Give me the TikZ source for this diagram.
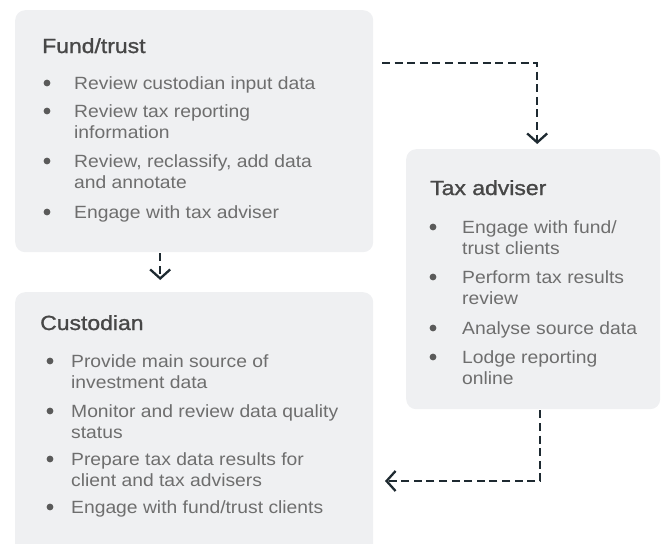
\documentclass[tikz,border=0pt]{standalone}
\usepackage{fontspec}
\setmainfont{Liberation Sans}[FakeStretch=1.09]
\newfontfamily\headfont{Liberation Sans}[FakeStretch=1.12, FakeBold=1.2]
\usetikzlibrary{arrows.meta}

\definecolor{panel}{HTML}{EFF0F2}
\definecolor{headgrey}{HTML}{474747}
\definecolor{itemgrey}{HTML}{6E6E6E}
\definecolor{dotgrey}{HTML}{5A5A5A}
\definecolor{linedark}{HTML}{1E2A31}

\newcommand\itemsize{\fontsize{17.7}{21}\selectfont}
\newcommand\headsize{\fontsize{20.5}{24}\selectfont\headfont}

% one bullet entry: name, dot x, text x, first baseline y, lines (\\-separated)
\newcommand\listentry[5]{%
  \fill[dotgrey] (#2,#4-6) circle (3.4);
  \node[entry] (#1) at (#3,#4) {\begin{tabular}[t]{@{}l@{}}#5\end{tabular}};
}

\tikzset{
  panelbox/.style={fill=panel, rounded corners=10pt, inner sep=0pt, anchor=north west},
  heading/.style={anchor=base west, inner sep=0pt, text=headgrey, font=\headsize},
  entry/.style={anchor=base west, inner sep=0pt, text=itemgrey, font=\itemsize},
  flow/.style={draw=linedark, line width=2.3pt, dash pattern=on 8pt off 4.6pt,
    -{Straight Barb[length=9pt, width=20pt, line width=2.3pt]}},
}

\begin{document}
\begin{tikzpicture}[x=1pt, y=-1pt]
  \path[use as bounding box, clip] (0,0) rectangle (665,544);

  % panels
  \node[panelbox, minimum width=358pt, minimum height=242pt] (fund) at (15,10) {};
  \node[panelbox, minimum width=254pt, minimum height=260pt] (tax) at (406,149) {};
  \node[panelbox, minimum width=358pt, minimum height=280pt] (cust) at (15,292) {};

  % Fund/trust
  \node[heading] (fundhead) at (42,53) {Fund/trust};
  \listentry{f1}{47}{74}{89}{Review custodian input data}
  \listentry{f2}{47}{74}{117}{Review tax reporting\\information}
  \listentry{f3}{47}{74}{167}{Review, reclassify, add data\\and annotate}
  \listentry{f4}{47}{74}{218}{Engage with tax adviser}

  % Tax adviser
  \node[heading] (taxhead) at (430,195) {Tax adviser};
  \listentry{t1}{433}{462}{233}{Engage with fund/\\trust clients}
  \listentry{t2}{433}{462}{283}{Perform tax results\\review}
  \listentry{t3}{433}{462}{334}{Analyse source data}
  \listentry{t4}{433}{462}{363}{Lodge reporting\\online}

  % Custodian
  \node[heading] (custhead) at (40,330) {Custodian};
  \listentry{c1}{50}{71}{367}{Provide main source of\\investment data}
  \listentry{c2}{50}{71}{417}{Monitor and review data quality\\status}
  \listentry{c3}{50}{71}{465}{Prepare tax data results for\\client and tax advisers}
  \listentry{c4}{50}{71}{513}{Engage with fund/trust clients}

  % connectors
  \coordinate (fundout) at (382,63);
  \draw[flow] (fundout) -| ([xshift=4pt, yshift=5pt]tax.north);
  \draw[flow] ([xshift=-34pt, yshift=-1pt]fund.south) -- ([xshift=-34pt, yshift=12pt]cust.north);
  \coordinate (custin) at (385,481);
  \draw[flow] ([xshift=7pt, yshift=-1pt]tax.south) |- (custin);
\end{tikzpicture}
\end{document}
